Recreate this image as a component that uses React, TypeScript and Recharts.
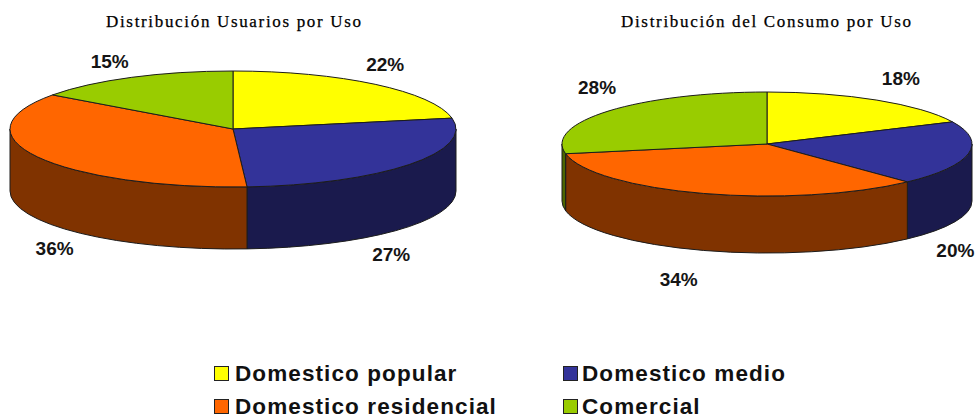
import React from 'react';
import { PieChart, Pie, Legend } from 'recharts';

const categories = ['Domestico popular', 'Domestico medio', 'Domestico residencial', 'Comercial'];
const usuariosValues = [22, 27, 36, 15];
const consumoValues = [18, 20, 34, 28];
const topColors = ['#FFFF00', '#333399', '#FF6600', '#99CC00'];
const wallColors = ['#808000', '#1A1A4D', '#803300', '#4D6600'];
const usuariosNudges = [[10, -20], [-18, 90], [17, 92], [-22, -16]];
const consumoNudges = [[24, -22], [-13, 97], [-25, 86], [-12, -23]];

const toRows = (vals: number[]) =>
  categories.map((name, i) => ({ name, value: vals[i], fill: topColors[i], wall: wallColors[i], index: i }));

const RAD = Math.PI / 180;
const STROKE = '#1c1c1c';

function makeShape(ratio: number, depth: number) {
  return (props: any) => {
    const { cx, cy, outerRadius, startAngle, endAngle, fill, payload } = props;
    const rx = outerRadius;
    const ry = outerRadius * ratio;
    const pt = (a: number, dy = 0) => [cx + rx * Math.cos(a * RAD), cy - ry * Math.sin(a * RAD) + dy];
    const [sx, sy] = pt(startAngle);
    const [ex, ey] = pt(endAngle);
    const large = Math.abs(startAngle - endAngle) > 180 ? 1 : 0;
    const top = `M${cx},${cy}L${sx},${sy}A${rx},${ry} 0 ${large} 1 ${ex},${ey}Z`;
    const hi = Math.min(startAngle, 0);
    const lo = Math.max(endAngle, -180);
    let wall = null;
    if (hi > lo) {
      const [a1, b1] = pt(hi);
      const [a2, b2] = pt(lo);
      const [a3, b3] = pt(lo, depth);
      const [a4, b4] = pt(hi, depth);
      wall = (
        <path
          d={`M${a1},${b1}A${rx},${ry} 0 0 1 ${a2},${b2}L${a3},${b3}A${rx},${ry} 0 0 0 ${a4},${b4}Z`}
          fill={payload?.wall ?? props.wall}
          stroke={STROKE}
          strokeWidth={1}
        />
      );
    }
    return (
      <g>
        {wall}
        <path d={top} fill={fill} stroke={STROKE} strokeWidth={1} strokeLinejoin="round" />
      </g>
    );
  };
}

function makeLabel(ratio: number, nudges: number[][]) {
  return (props: any) => {
    const { cx, cy, outerRadius, midAngle, value, index } = props;
    const x = cx + outerRadius * Math.cos(midAngle * RAD) + nudges[index][0];
    const y = cy - outerRadius * ratio * Math.sin(midAngle * RAD) + nudges[index][1];
    return (
      <text
        x={x}
        y={y}
        textAnchor="middle"
        dominantBaseline="central"
        fontFamily="Liberation Sans"
        fontWeight="bold"
        fontSize={19}
        fill="#151515"
      >
        {`${value}%`}
      </text>
    );
  };
}

const legendCols = [214, 563];
const legendSwatchRows = [366, 399];
const legendTextRows = [363, 396];

function LegendBlock() {
  return (
    <div style={{ position: 'relative', width: 975, height: 419 }}>
      {categories.map((name, i) => {
        const col = i % 2;
        const row = Math.floor(i / 2);
        return (
          <React.Fragment key={name}>
            <div
              style={{
                position: 'absolute',
                left: legendCols[col],
                top: legendSwatchRows[row],
                width: 13,
                height: 13,
                background: topColors[i],
                border: '1px solid #222',
              }}
            />
            <div
              style={{
                position: 'absolute',
                left: legendCols[col] + (col === 0 ? 21 : 19),
                top: legendTextRows[row],
                fontFamily: 'Liberation Sans',
                fontWeight: 'bold',
                fontSize: 22.5,
                lineHeight: '22px',
                letterSpacing: 1.1,
                color: '#111',
                whiteSpace: 'nowrap',
              }}
            >
              {name}
            </div>
          </React.Fragment>
        );
      })}
    </div>
  );
}

const titleStyle = { fontFamily: 'Liberation Serif', fontSize: 17, fill: '#000', stroke: '#000', strokeWidth: 0.25 };

export default function App() {
  const leftRatio = 58 / 223;
  const rightRatio = 52 / 205;
  return (
    <div style={{ position: 'absolute', left: 0, top: 0, width: 975, height: 419, background: '#fff' }}>
      <PieChart width={975} height={419} margin={{ top: 0, right: 0, bottom: 0, left: 0 }}>
        <Pie
          data={toRows(usuariosValues)}
          dataKey="value"
          nameKey="name"
          cx={233}
          cy={129}
          outerRadius={223}
          startAngle={90}
          endAngle={-270}
          stroke="none"
          isAnimationActive={false}
          shape={makeShape(leftRatio, 62)}
          label={makeLabel(leftRatio, usuariosNudges)}
          labelLine={false}
        />
        <Pie
          data={toRows(consumoValues)}
          dataKey="value"
          nameKey="name"
          cx={767}
          cy={144}
          outerRadius={205}
          startAngle={90}
          endAngle={-270}
          stroke="none"
          isAnimationActive={false}
          shape={makeShape(rightRatio, 57)}
          label={makeLabel(rightRatio, consumoNudges)}
          labelLine={false}
        />
        <text x={106} y={27} textLength={255} lengthAdjust="spacing" style={titleStyle}>
          Distribución Usuarios por Uso
        </text>
        <text x={621} y={27} textLength={290} lengthAdjust="spacing" style={titleStyle}>
          Distribución del Consumo por Uso
        </text>
        <Legend
          content={() => <LegendBlock />}
          wrapperStyle={{ left: 0, top: 0, bottom: 'auto', width: 975, height: 419, pointerEvents: 'none' }}
        />
      </PieChart>
    </div>
  );
}
